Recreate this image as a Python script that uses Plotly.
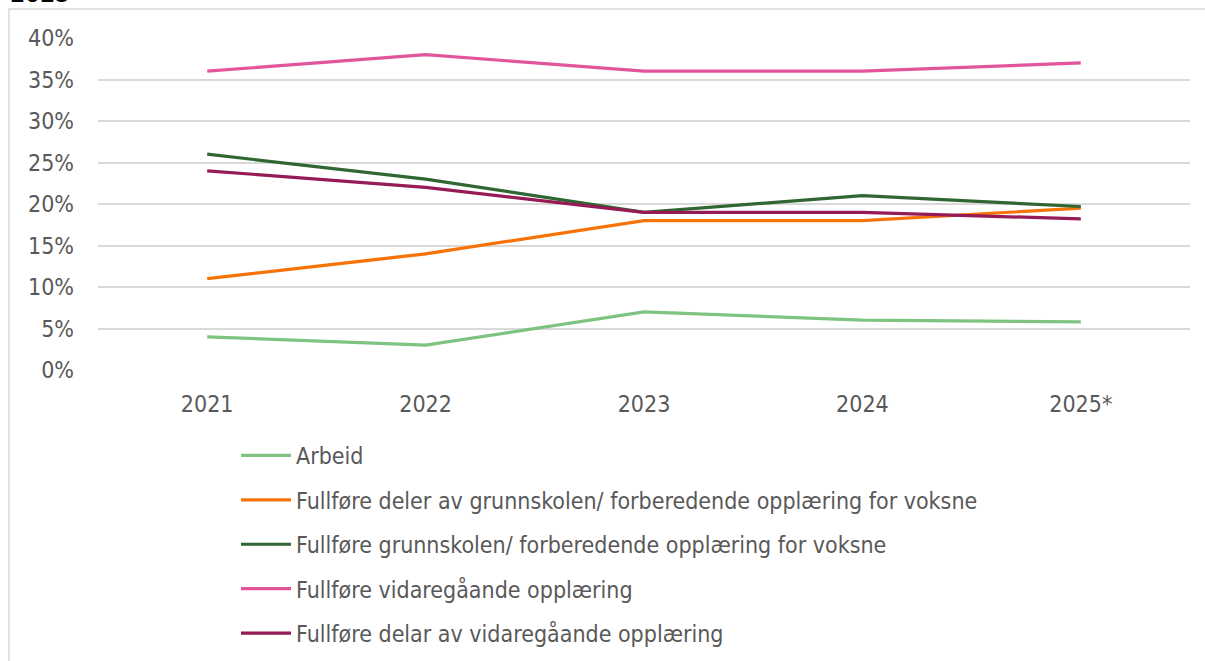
import plotly.graph_objects as go

years = ["2021", "2022", "2023", "2024", "2025*"]
series_names = [
    "Arbeid",
    "Fullføre deler av grunnskolen/ forberedende opplæring for voksne",
    "Fullføre grunnskolen/ forberedende opplæring for voksne",
    "Fullføre vidaregåande opplæring",
    "Fullføre delar av vidaregåande opplæring",
]
arbeid = [4, 3, 7, 6, 5.8]
deler_grunnskolen = [11, 14, 18, 18, 19.5]
grunnskolen = [26, 23, 19, 21, 19.7]
vidaregaande = [36, 38, 36, 36, 37]
delar_vidaregaande = [24, 22, 19, 19, 18.2]
colors = ["#7fc381", "#f77308", "#2f6631", "#e2559b", "#951a56"]
y_ticks = [0, 5, 10, 15, 20, 25, 30, 35, 40]
y_tick_labels = [f"{v}%" for v in y_ticks]

font_family = "DejaVu Sans Condensed, DejaVu Sans, sans-serif"
FS = 23

fig = go.Figure()
for i, (name, vals) in enumerate(zip(series_names,
                                     [arbeid, deler_grunnskolen, grunnskolen, vidaregaande, delar_vidaregaande])):
    fig.add_trace(go.Scatter(
        x=years, y=vals, mode="lines", name=name,
        line=dict(color=colors[i], width=3.2),
        legendgroup=f"g{i}",
        hoverinfo="skip",
    ))

W, H = 1205, 661
L, R, T, B = 98, 15, 38, 291
pw = W - L - R
ph = H - T - B

def px_x(x):
    return (x - L) / pw

def px_y(y):
    return (H - B - y) / ph

fig.update_layout(
    width=W, height=H,
    margin=dict(l=L, r=R, t=T, b=B, autoexpand=False),
    plot_bgcolor="white", paper_bgcolor="white",
    font=dict(family=font_family, size=FS, color="#595959"),
    showlegend=True,
    legend=dict(
        x=px_x(236), y=px_y(434), xanchor="left", yanchor="top",
        orientation="v", tracegroupgap=11.5,
        font=dict(size=FS, color="#595959", family=font_family),
        itemwidth=50,
        bgcolor="rgba(0,0,0,0)",
    ),
    xaxis=dict(
        type="category", range=[-0.5, 4.5],
        showgrid=False, zeroline=False, showline=False,
        ticks="", ticklabelstandoff=18,
        tickfont=dict(size=FS, color="#595959"),
        fixedrange=True,
    ),
    yaxis=dict(
        range=[0, 40], tickvals=y_ticks, ticktext=y_tick_labels,
        showgrid=True, gridcolor="#d9d9d9", gridwidth=1.5,
        zeroline=False, showline=False, ticks="",
        ticklabelstandoff=23,
        tickfont=dict(size=FS, color="#595959"),
        fixedrange=True,
    ),
    shapes=[
        dict(type="rect", xref="paper", yref="paper",
             x0=px_x(9), x1=px_x(1215), y0=px_y(680), y1=px_y(9),
             line=dict(color="#d9d9d9", width=1.5), fillcolor="rgba(0,0,0,0)",
             layer="below"),
    ],
    annotations=[
        dict(text="<b>2025</b>", xref="paper", yref="paper",
             x=px_x(8), y=px_y(10), xanchor="left", yanchor="bottom",
             showarrow=False, font=dict(size=24, color="black", family=font_family)),
    ],
)

fig.write_html("out.html", config={"displayModeBar": False},
               post_script="document.body.style.margin='0px';document.body.style.overflow='hidden';")
